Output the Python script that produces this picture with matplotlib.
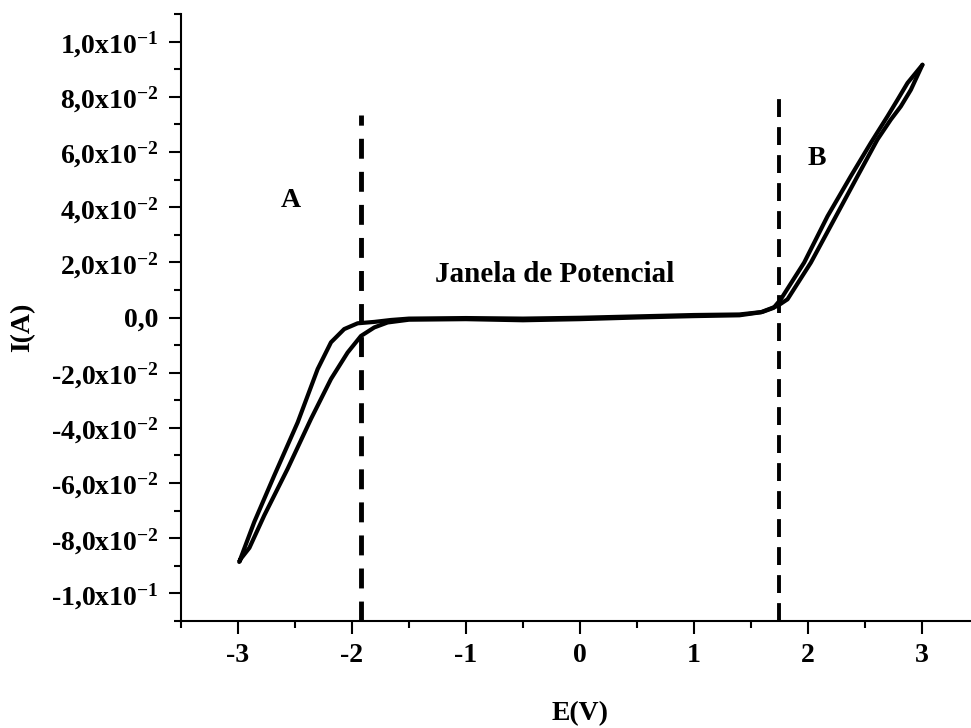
import matplotlib
matplotlib.use('Agg')
import matplotlib.pyplot as plt
from matplotlib.ticker import FixedLocator

plt.rcParams['font.family'] = ['Liberation Serif', 'DejaVu Serif']
plt.rcParams['font.weight'] = 'bold'
plt.rcParams['mathtext.fontset'] = 'custom'
plt.rcParams['mathtext.rm'] = 'Liberation Serif:bold'
plt.rcParams['mathtext.bf'] = 'Liberation Serif:bold'
plt.rcParams['mathtext.it'] = 'Liberation Serif:bold'
plt.rcParams['mathtext.default'] = 'bf'

# sweep towards positive potentials (starts at the -3 V vertex)
e_up = [-2.974, -2.900, -2.769, -2.564, -2.360, -2.184, -2.038, -1.921, -1.804,
        -1.687, -1.500, -1.000, -0.500, 0.000, 0.500, 1.000, 1.400, 1.588, 1.734,
        1.822, 2.027, 2.231, 2.436, 2.611, 2.728, 2.816, 2.904, 3.006]
i_up = [-0.0874, -0.0835, -0.0717, -0.0548, -0.0368, -0.0223, -0.0127, -0.0067, -0.0036,
        -0.0018, -0.0008, -0.0006, -0.0010, -0.0006, 0.0000, 0.0005, 0.0008, 0.0019, 0.0042,
        0.0066, 0.0199, 0.0355, 0.0512, 0.0645, 0.0717, 0.0765, 0.0825, 0.0916]

# return sweep back to the -3 V vertex
e_down = [3.006, 2.875, 2.787, 2.699, 2.553, 2.377, 2.173, 1.968, 1.763, 1.700,
          1.600, 1.400, 1.000, 0.500, 0.000, -0.500, -1.000, -1.500, -1.658, -1.804,
          -1.950, -2.068, -2.184, -2.301, -2.476, -2.682, -2.857, -2.989, -2.974]
i_down = [0.0916, 0.0850, 0.0789, 0.0729, 0.0633, 0.0512, 0.0367, 0.0199, 0.0066, 0.0035,
          0.0020, 0.0011, 0.0009, 0.0004, -0.0001, -0.0004, -0.0002, -0.0004, -0.0009, -0.0016,
          -0.0021, -0.0042, -0.0090, -0.0187, -0.0380, -0.0573, -0.0741, -0.0886, -0.0874]

# limits of the potential window
e_limit_a = -1.92
e_limit_b = 1.743
top_a = 0.0735
top_b = 0.080

x_ticks = [-3, -2, -1, 0, 1, 2, 3]
x_labels = ['-3', '-2', '-1', '0', '1', '2', '3']
y_ticks = [-0.10, -0.08, -0.06, -0.04, -0.02, 0.0, 0.02, 0.04, 0.06, 0.08, 0.10]
y_labels = [r'-$1{,}0\mathrm{x}10^{-1}$', r'-$8{,}0\mathrm{x}10^{-2}$',
            r'-$6{,}0\mathrm{x}10^{-2}$', r'-$4{,}0\mathrm{x}10^{-2}$',
            r'-$2{,}0\mathrm{x}10^{-2}$', '0,0',
            r'$2{,}0\mathrm{x}10^{-2}$', r'$4{,}0\mathrm{x}10^{-2}$',
            r'$6{,}0\mathrm{x}10^{-2}$', r'$8{,}0\mathrm{x}10^{-2}$',
            r'$1{,}0\mathrm{x}10^{-1}$']

fig = plt.figure(figsize=(9.71, 7.28), dpi=100)
ax = fig.add_axes([181 / 971, 1 - 621 / 728, 790 / 971, 607 / 728])

ax.plot(e_up, i_up, color='k', lw=3, solid_joinstyle='round', solid_capstyle='round')
ax.plot(e_down, i_down, color='k', lw=3, solid_joinstyle='round', solid_capstyle='round')

ax.plot([e_limit_a, e_limit_a], [-0.11, top_a], color='k', lw=3.5, dashes=(4.1, 2.7))
ax.plot([e_limit_b, e_limit_b], [-0.11, top_b], color='k', lw=2.8, dashes=(4.6, 2.6))

ax.text(-2.535, 0.0424, 'A', fontsize=20, fontweight='bold', ha='center', va='center')
ax.text(2.079, 0.0576, 'B', fontsize=20, fontweight='bold', ha='center', va='center')
ax.text(-0.22, 0.0155, 'Janela de Potencial', fontsize=21, fontweight='bold',
        ha='center', va='center')

ax.set_xlim(-3.5, 3.432)
ax.set_ylim(-0.11, 0.11)
ax.set_xticks(x_ticks)
ax.set_xticklabels(x_labels)
ax.xaxis.set_minor_locator(FixedLocator([-3.5, -2.5, -1.5, -0.5, 0.5, 1.5, 2.5]))
ax.set_yticks(y_ticks)
ax.set_yticklabels(y_labels)
ax.yaxis.set_minor_locator(FixedLocator([-0.11, -0.09, -0.07, -0.05, -0.03, -0.01,
                                         0.01, 0.03, 0.05, 0.07, 0.09, 0.11]))

for side in ['top', 'right']:
    ax.spines[side].set_visible(False)
for side in ['left', 'bottom']:
    ax.spines[side].set_linewidth(1.5)

ax.tick_params(which='major', direction='out', length=9, width=1.5, labelsize=20, pad=7)
ax.tick_params(which='minor', direction='out', length=5, width=1.5)
for lab in ax.get_xticklabels() + ax.get_yticklabels():
    lab.set_fontweight('bold')

fig.text(580 / 971, 1 - 714 / 728, 'E(V)', fontsize=20, fontweight='bold',
         ha='center', va='center')
fig.text(23 / 971, 1 - 327 / 728, 'I(A)', fontsize=20, fontweight='bold',
         rotation=90, ha='center', va='center')

fig.savefig('out.png', dpi=100)
plt.close()
